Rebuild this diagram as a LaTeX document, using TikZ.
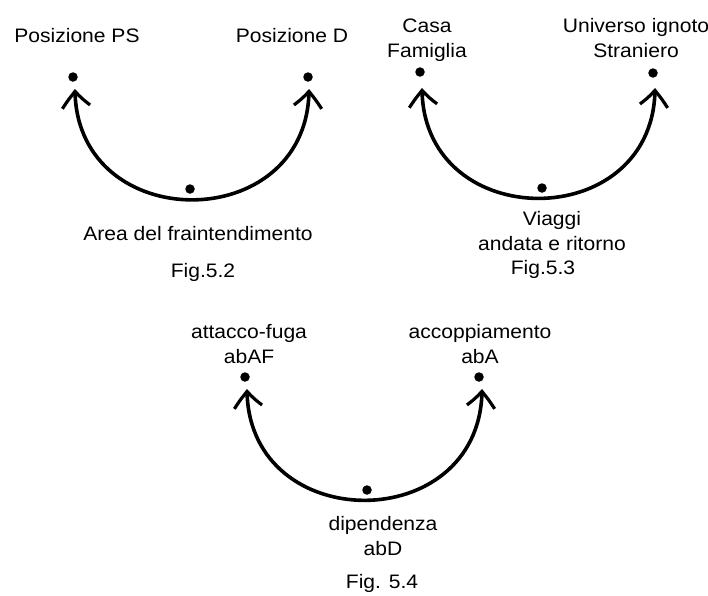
\documentclass[tikz,border=0pt]{standalone}
\usepackage{fontspec}
\setmainfont{Liberation Sans}[FakeStretch=1.08]
\usetikzlibrary{arrows.meta,bending}
\begin{document}
\begin{tikzpicture}[x=1pt,y=-1pt,
  lbl/.style={font=\fontsize{19.5}{25}\selectfont, anchor=base, inner sep=0pt, align=center, text=black},
  dot/.style={circle, fill=black, minimum size=9.5pt, inner sep=0pt},
  barb/.tip={Straight Barb[length=16pt,width=28pt,line width=3.2pt,bend]},
  swing/.style={line width=3.6pt, barb-barb, out=-90, in=-90, looseness=1.62}
]
\useasboundingbox (0,0) rectangle (708,595);

% Fig. 5.2
\node[lbl] (psT) at (77,42) {Posizione PS};
\node[lbl] (dT) at (292,42) {Posizione D};
\node[dot] (ps) at (73,77) {};
\node[dot] (d) at (308,77) {};
\node[dot] (mis) at (190,189) {};
\coordinate (psEnd) at (75,89);
\coordinate (dEnd) at (309,89);
\draw[swing] (psEnd) to (dEnd);
\node[lbl] (misT) at (198,240) {Area del fraintendimento};
\node[lbl] (fig2) at (203,277) {Fig.5.2};

% Fig. 5.3 (multi-line labels sit on their last baseline)
\node[lbl] (casaT) at (427,57) {Casa\\Famiglia};
\node[lbl] (univT) at (636,57) {Universo ignoto\\Straniero};
\node[dot] (casa) at (420,72) {};
\node[dot] (univ) at (653,73) {};
\node[dot] (viag) at (542,188) {};
\coordinate (casaEnd) at (422,88);
\coordinate (univEnd) at (655,88);
\draw[swing] (casaEnd) to (univEnd);
\node[lbl] (viagT) at (552,250) {Viaggi\\andata e ritorno};
\node[lbl] (fig3) at (543,274) {Fig.5.3};

% Fig. 5.4
\node[lbl] (afT) at (249,363) {attacco-fuga\\abAF};
\node[lbl] (accT) at (480,363) {accoppiamento\\abA};
\node[dot] (af) at (245,377) {};
\node[dot] (acc) at (479,377) {};
\node[dot] (dip) at (367,490) {};
\coordinate (afEnd) at (247,389);
\coordinate (accEnd) at (482,389);
\draw[swing] (afEnd) to (accEnd);
\node[lbl] (dipT) at (383,555) {dipendenza\\abD};
\node[lbl] (fig4) at (382,588) {Fig. 5.4};
\end{tikzpicture}
\end{document}
